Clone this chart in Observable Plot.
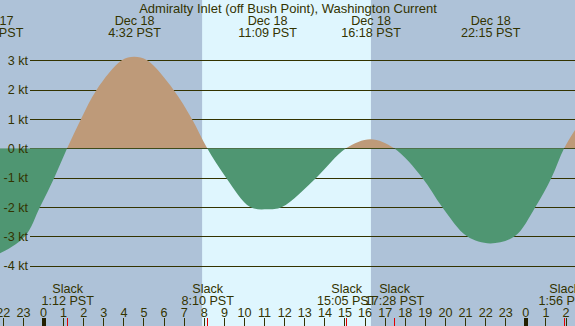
<!DOCTYPE html>
<html>
<head>
<meta charset="utf-8">
<script src="https://cdn.jsdelivr.net/npm/d3@7"></script>
<script src="https://cdn.jsdelivr.net/npm/@observablehq/plot@0.6"></script>
<style>
  html, body { margin: 0; padding: 0; background: #aec2d8; }
  svg { display: block; }
</style>
</head>
<body>
<div id="chart"></div>
<script>
// ---- data (hours since Dec 18 00:00 PST) ----
const title = "Admiralty Inlet (off Bush Point), Washington Current";

// current speed curve
const curveHours  = [-2.48, -2.14, -0.90, -0.15, 0.56, 1.20, 1.89, 2.67, 3.92, 4.53, 5.18, 6.49, 7.41, 8.17, 9.11, 10.31, 11.15, 11.89, 13.60, 15.08, 16.30, 17.47, 18.87, 19.86, 21.10, 22.25, 23.47, 24.50, 25.30, 25.93, 26.49];
const curveSpeeds = [-3.63, -3.58, -3.00, -2.00, -1.00, 0.00, 1.00, 2.00, 3.00, 3.12, 3.00, 2.00, 1.00, 0.00, -1.00, -2.00, -2.08, -2.00, -1.00, 0.00, 0.31, 0.00, -1.00, -2.00, -3.00, -3.24, -3.00, -2.00, -1.00, 0.00, 0.65];

// max current events (top labels)
const maxDayOffset = [-1, 0, 0, 0, 0];
const maxDates     = ["Dec 17", "Dec 18", "Dec 18", "Dec 18", "Dec 18"];
const maxClocks    = ["21:31", "4:32", "11:09", "16:18", "22:15"];

// slack events (bottom labels)
const slackDayOffset = [0, 0, 0, 0, 1];
const slackClocks    = ["1:12", "8:10", "15:05", "17:28", "1:56"];

// sun
const sunrise = "7:55";
const sunset  = "16:19";

// axes
const yTicks      = [3, 2, 1, 0, -1, -2, -3, -4];
const yTickLabels = ["3 kt", "2 kt", "1 kt", "0 kt", "-1 kt", "-2 kt", "-3 kt", "-4 kt"];
const hourTicks   = [-2, -1, 0, 1, 2, 3, 4, 5, 6, 7, 8, 9, 10, 11, 12, 13, 14, 15, 16, 17, 18, 19, 20, 21, 22, 23, 24, 25, 26];
const hourLabels  = ["22", "23", "0", "1", "2", "3", "4", "5", "6", "7", "8", "9", "10", "11", "12", "13", "14", "15", "16", "17", "18", "19", "20", "21", "22", "23", "0", "1", "2"];
const midnightTicks = [0, 24];

// ---- helpers ----
const clock = (s, day = 0) => { const [h, m] = s.split(":").map(Number); return day * 24 + h + m / 60; };
const points = curveHours.map((h, i) => ({h, v: curveSpeeds[i]}));
const maxEv = maxClocks.map((c, i) => ({t: clock(c, maxDayOffset[i]), date: maxDates[i], time: c + " PST"}));
const slackEv = slackClocks.map((c, i) => ({t: clock(c, slackDayOffset[i]), time: c + " PST"}));
const hourEv = hourTicks.map((h, i) => ({h, label: hourLabels[i]}));
const yEv = yTicks.map((v, i) => ({v, label: yTickLabels[i]}));

const night = "#aec2d8", day = "#dff6fe", flood = "#be9a79", ebb = "#4f9672", ink = "#333300";

const svg = Plot.plot({
  width: 575, height: 326, margin: 0,
  x: {domain: [-2.14, 26.47], axis: null},
  y: {domain: [-6.056, 5.056], axis: null},
  style: {background: night, fontFamily: "'Liberation Sans', Arial, sans-serif", fontSize: "12.6px", color: ink, overflow: "hidden"},
  marks: [
    Plot.rect([0], {x1: () => clock(sunrise), x2: () => clock(sunset), fill: day}),
    Plot.ruleY(yEv, {y: "v", stroke: ink, strokeWidth: 1, insetLeft: 30, shapeRendering: "crispEdges"}),
    Plot.areaY(points, {x: "h", y1: 0, y2: "v", fill: flood, curve: "catmull-rom"}),
    Plot.areaY(points, {x: "h", y1: 0, y2: "v", fill: ebb, curve: "catmull-rom"}),
    Plot.text(yEv, {y: "v", text: "label", frameAnchor: "left", dx: 27.5, textAnchor: "end", fill: ink}),
    Plot.text([title], {text: d => d, frameAnchor: "top", lineAnchor: "bottom", dy: 12, fill: ink, fontSize: 13}),
    Plot.text(maxEv, {x: "t", text: "date", frameAnchor: "top", lineAnchor: "bottom", dy: 24, fill: ink}),
    Plot.text(maxEv, {x: "t", text: "time", frameAnchor: "top", lineAnchor: "bottom", dy: 36, fill: ink}),
    Plot.text(slackEv, {x: "t", text: () => "Slack", frameAnchor: "top", lineAnchor: "bottom", dy: 292, fill: ink}),
    Plot.text(slackEv, {x: "t", text: "time", frameAnchor: "top", lineAnchor: "bottom", dy: 304, fill: ink}),
    Plot.text(hourEv, {x: "h", text: "label", frameAnchor: "top", lineAnchor: "bottom", dy: 316.3, fill: ink}),
    Plot.tickX(hourEv, {x: "h", stroke: ink, strokeWidth: 1, insetTop: 318, shapeRendering: "crispEdges"}),
    Plot.tickX(midnightTicks, {x: d => d, stroke: "#221f00", strokeWidth: 4, insetTop: 318, shapeRendering: "crispEdges"}),
    Plot.tickX(slackEv, {x: "t", stroke: "#e00000", strokeWidth: 1, insetTop: 318, shapeRendering: "crispEdges"})
  ]
});

// clip the two area marks at the zero line: flood above, ebb below
const y0 = svg.scale("y").apply(0);
const NS = "http://www.w3.org/2000/svg";
const defs = document.createElementNS(NS, "defs");
function clipRect(id, y, h) {
  const cp = document.createElementNS(NS, "clipPath");
  cp.setAttribute("id", id);
  const r = document.createElementNS(NS, "rect");
  r.setAttribute("x", -10); r.setAttribute("y", y);
  r.setAttribute("width", 600); r.setAttribute("height", h);
  cp.appendChild(r); defs.appendChild(cp);
}
clipRect("clip-flood", -10, y0 + 10);
clipRect("clip-ebb", y0, 400);
svg.insertBefore(defs, svg.firstChild);
const areas = svg.querySelectorAll('g[aria-label="area"]');
if (areas.length >= 2) {
  areas[0].setAttribute("clip-path", "url(#clip-flood)");
  areas[1].setAttribute("clip-path", "url(#clip-ebb)");
}
document.getElementById("chart").appendChild(svg);
</script>
</body>
</html>
